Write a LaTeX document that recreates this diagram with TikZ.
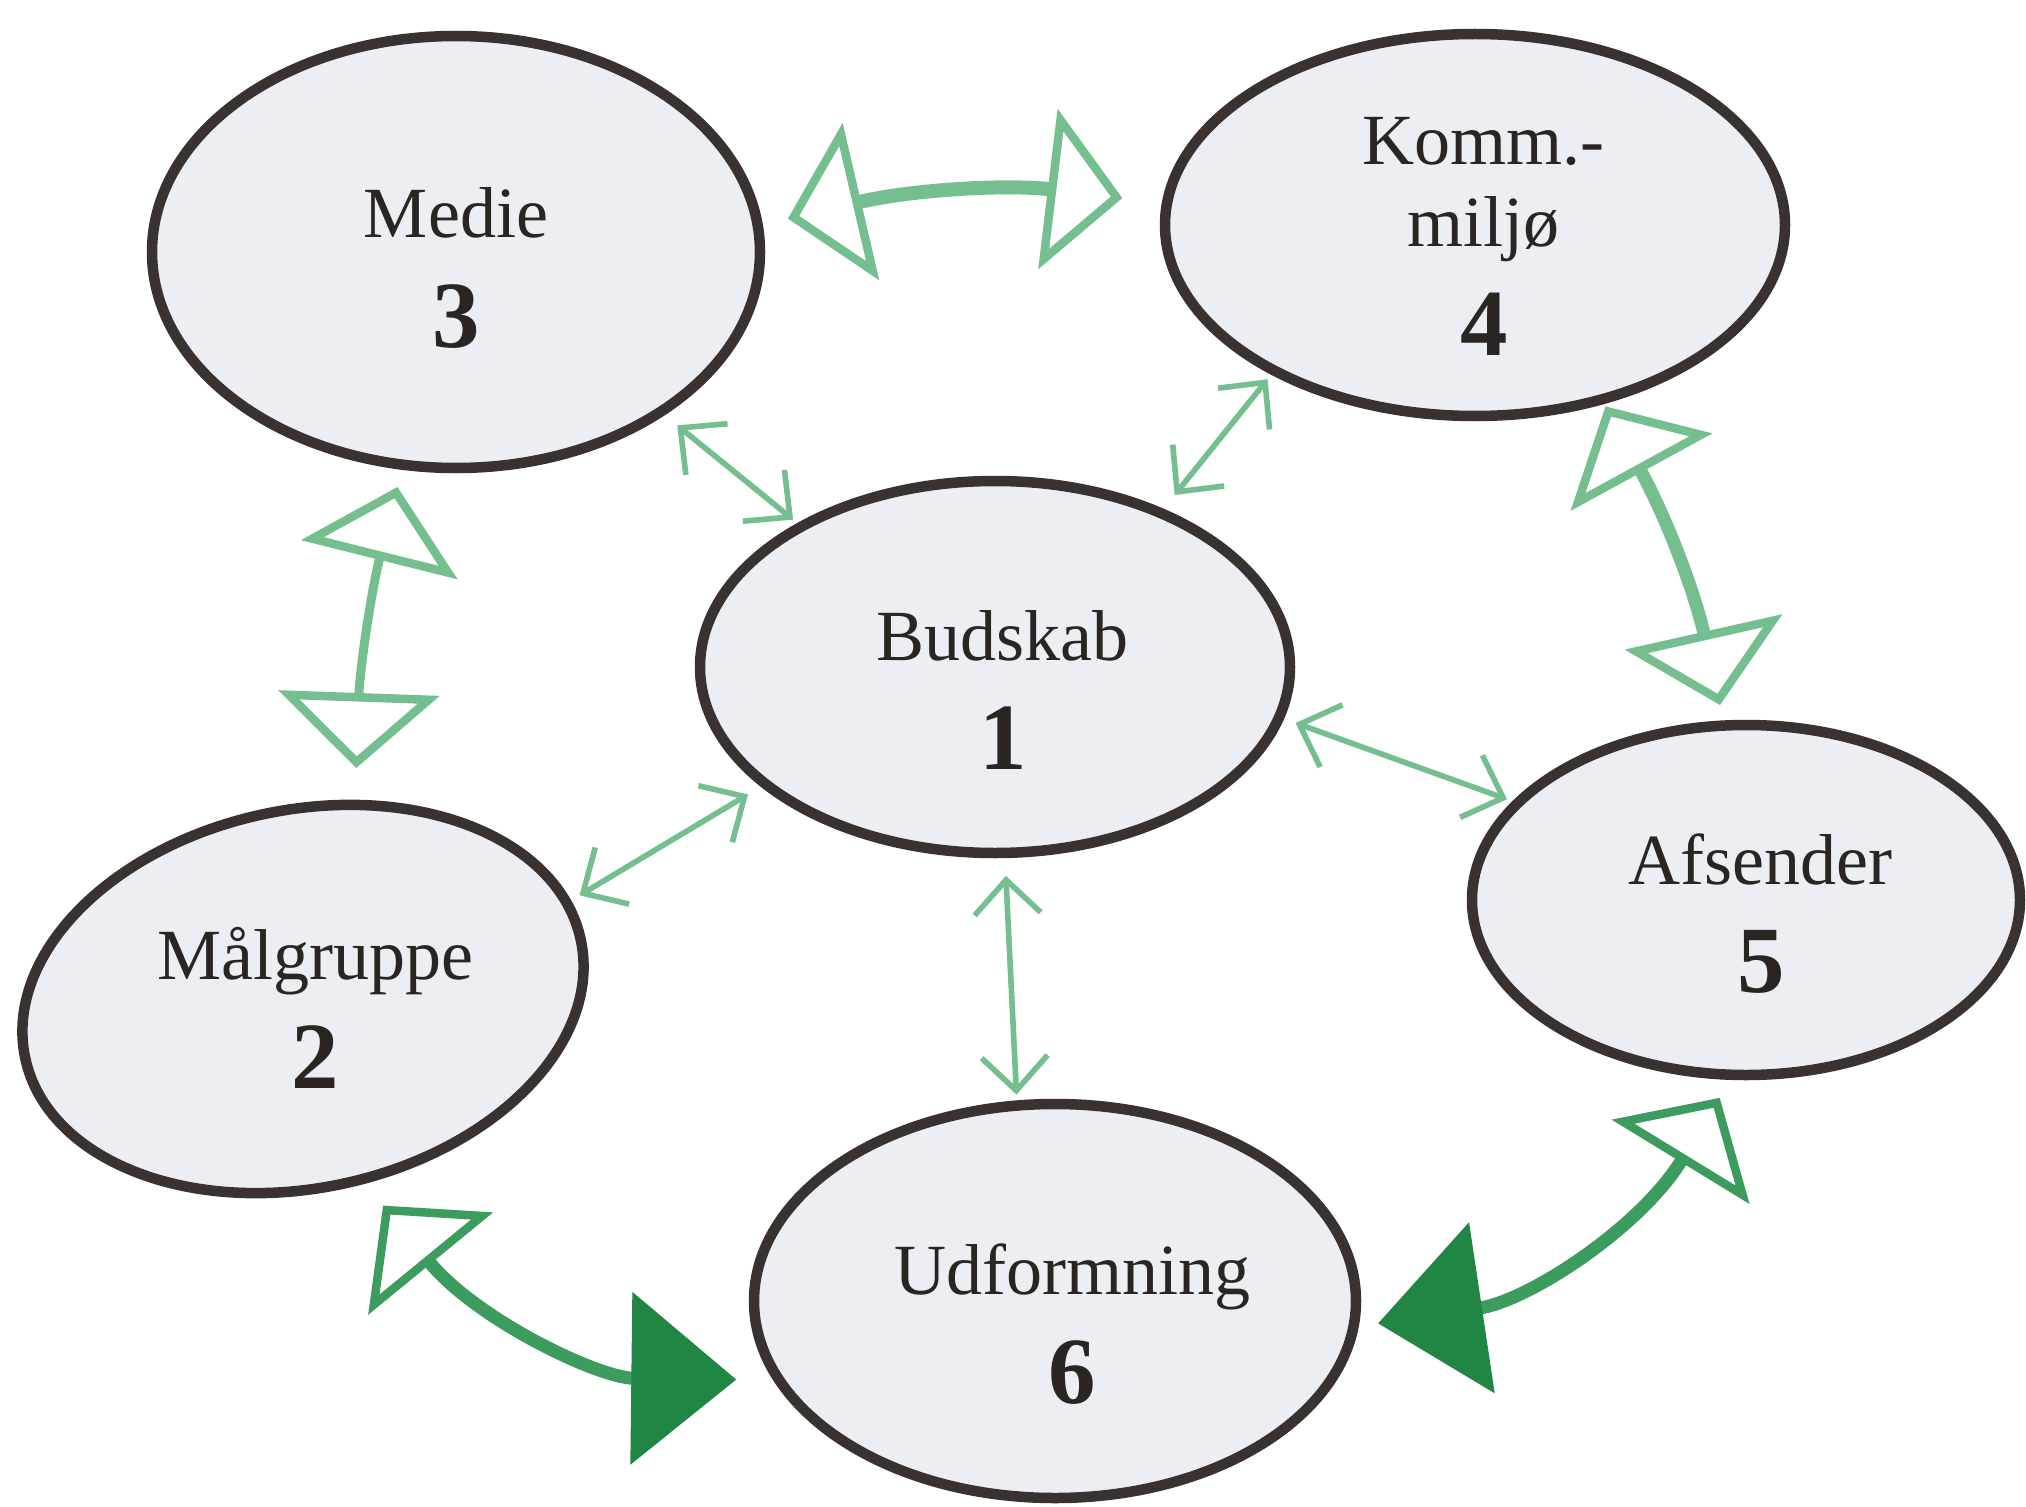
\documentclass[tikz,border=0pt]{standalone}
\usepackage{fontspec}
\setmainfont{Liberation Serif}
\usepackage{graphicx}
\usepackage{tikz}
\usetikzlibrary{arrows.meta,shapes.geometric}

\definecolor{rim}{RGB}{58,50,48}
\definecolor{paper}{RGB}{236,238,243}
\definecolor{ink}{RGB}{42,37,35}
\definecolor{lightleaf}{RGB}{116,190,143}
\definecolor{darkleaf}{RGB}{60,156,94}
\definecolor{deepleaf}{RGB}{33,134,68}

\def\wordfont{\fontsize{20.5}{23.5}\selectfont}
\def\numfont{\fontsize{27}{32}\selectfont\bfseries}
\def\numgap{6.2pt}
% #1 shift right (twice), #2 strut above, #3 word(s), #4 number
\def\tagtext#1#2#3#4{\begin{tabular}{@{\hspace{#1}}c@{}}\rule{0pt}{#2}#3\\[\numgap]{\numfont #4}\end{tabular}}

\tikzset{
	bubble/.style={ellipse, draw=rim, line width=1.05mm, fill=paper, inner xsep=0pt, inner ysep=-4mm, outer sep=0pt, text=ink, font=\wordfont, align=center},
	tinybarb/.tip={Straight Barb[length=3.4mm,width=6.6mm]},
	hollowhead/.tip={Triangle[open,length=7.5mm,width=16mm,line width=0.85mm]},
	fullhead/.tip={Triangle[length=10.5mm,width=17mm,color=deepleaf]},
	thinlink/.style={draw=lightleaf, line width=0.56mm, tinybarb-tinybarb},
	biglink/.style={draw=lightleaf, line width=1.3mm, hollowhead-hollowhead},
	darklink/.style={draw=darkleaf, line width=1.3mm, hollowhead-fullhead}
}

\begin{document}
\begin{tikzpicture}
	%%%%% START %%%%%
	
	\path[use as bounding box, fill=white] (0, 0) rectangle (20.26, -15.07);
	
	\node[bubble, minimum width=6.08cm, minimum height=4.32cm] (medie) at (4.56, -2.52) {\tagtext{0pt}{30pt}{Medie}{3}};
	\node[bubble, minimum width=6.20cm, minimum height=3.82cm] (komm) at (14.75, -2.25) {\tagtext{5pt}{27pt}{Komm.-\\miljø}{4}};
	\node[bubble, minimum width=5.90cm, minimum height=3.72cm] (budskab) at (9.95, -6.67) {\tagtext{4.5pt}{34.5pt}{Budskab}{1}};
	\node[bubble, rotate=12, minimum width=5.68cm, minimum height=3.78cm] (malgruppe) at (3.03, -9.99) {\rotatebox{-12}{\tagtext{7pt}{27pt}{Målgruppe}{2}}};
	\node[bubble, minimum width=5.48cm, minimum height=3.50cm] (afsender) at (17.46, -9.00) {\tagtext{8.5pt}{29pt}{Afsender}{5}};
	\node[bubble, minimum width=6.02cm, minimum height=3.94cm] (udformning) at (10.55, -13.01) {\tagtext{10pt}{34.5pt}{Udformning}{6}};
	
	% thin arrows round the centre
	\draw[thinlink, shorten <=2.15mm, shorten >=1.1mm] (medie.-38.3) -- (budskab.144);
	\draw[thinlink, shorten <=1.1mm, shorten >=2.3mm] (komm.-144.4) -- (budskab.43.5);
	\draw[thinlink, shorten <=1.5mm, shorten >=2.05mm] (malgruppe.8.4) -- (budskab.207.2);
	\draw[thinlink, shorten <=1.75mm, shorten >=1.15mm] (budskab.-10.6) -- (afsender.157.7);
	\draw[thinlink, shorten <=2.3mm, shorten >=1.1mm] (budskab.-87.5) -- (udformning.101.8);
	
	% big arrows on the ring
	\draw[biglink, line width=1.4mm, shorten <=3.1mm, shorten >=4.5mm] (medie.5.3) to[bend left=10] (komm.176.4);
	\draw[biglink, line width=0.9mm, shorten <=2.3mm, shorten >=3.7mm] (medie.-104.6) to[bend right=6] (malgruppe.63.1);
	\draw[biglink, line width=1.3mm, shorten <=0.8mm, shorten >=2.1mm] (komm.-54.5) to[bend left=8] (afsender.97.9);
	
	\draw[darklink, shorten <=3.4mm, shorten >=4.3mm] (malgruppe.-84.5) to[bend right=25] (udformning.196.6);
	\draw[darklink, shorten <=2.7mm, shorten >=2.5mm] (afsender.-94.5) to[bend left=25] (udformning.-5.5);
	
	%%%%% END %%%%%
\end{tikzpicture}
\end{document}
